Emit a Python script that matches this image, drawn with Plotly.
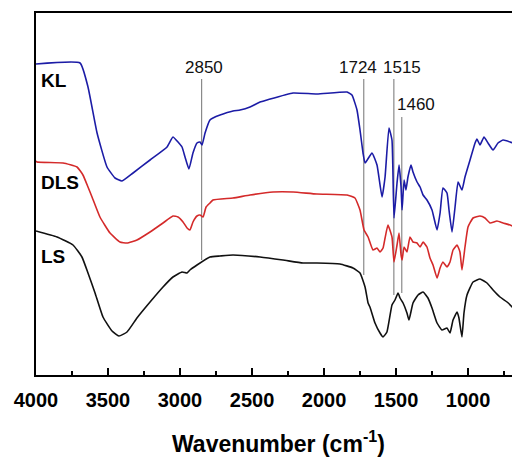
import plotly.graph_objects as go

# ---- data (wavenumber in cm-1, transmittance in arbitrary offset units) ----
kl_wn = [4000, 3694, 3639, 3576, 3507, 3451, 3403, 3326, 3208, 3090, 3049, 3014, 2986, 2965,
         2938, 2910, 2882, 2861, 2847, 2826, 2792, 2771, 2722, 2632, 2583, 2514, 2444, 2396,
         2215, 2049, 1840, 1806, 1771, 1750, 1729, 1715, 1667, 1632, 1597, 1576, 1549, 1528,
         1514, 1493, 1479, 1465, 1458, 1444, 1431, 1417, 1396, 1382, 1354, 1333, 1312, 1285,
         1250, 1215, 1194, 1174, 1146, 1132, 1111, 1090, 1069, 1042, 1021, 986, 951, 938, 917,
         889, 861, 826, 792, 757, 708, 660, 639]
kl_t = [311, 312, 288, 242, 208, 197, 194, 202, 215, 228, 238, 233, 228, 218,
        206, 222, 232, 233, 230, 242, 255, 257, 260, 264, 265, 268, 273, 275,
        282, 281, 283, 280, 265, 245, 222, 212, 222, 210, 178, 198, 247, 235,
        157, 192, 210, 188, 165, 195, 185, 198, 210, 203, 193, 188, 180, 175,
        165, 145, 162, 187, 182, 165, 143, 168, 193, 185, 198, 215, 232, 236, 230,
        238, 232, 225, 232, 235, 233, 230, 228]

dls_wn = [4000, 3993, 3812, 3715, 3674, 3639, 3611, 3556, 3486, 3417, 3368, 3299, 3208, 3118,
          3049, 3014, 2979, 2951, 2931, 2910, 2882, 2861, 2840, 2819, 2792, 2771, 2632, 2514,
          2354, 2215, 2049, 1840, 1785, 1750, 1722, 1694, 1660, 1632, 1611, 1590, 1576, 1556,
          1528, 1514, 1493, 1479, 1465, 1458, 1444, 1424, 1403, 1382, 1354, 1333, 1312, 1285,
          1264, 1243, 1215, 1194, 1174, 1146, 1125, 1104, 1076, 1056, 1042, 1021, 1000, 965,
          917, 882, 847, 799, 757, 708, 653, 639]
dls_t = [214, 213, 212, 208, 200, 188, 178, 158, 142, 133, 132, 135, 143, 152,
         159, 158, 153, 147, 145, 153, 159, 160, 158, 168, 172, 175, 177, 180,
         183, 183, 181, 180, 177, 165, 145, 138, 125, 127, 123, 127, 137, 150,
         138, 113, 130, 142, 120, 115, 128, 123, 138, 133, 132, 128, 133, 128,
         117, 110, 97, 107, 113, 108, 113, 125, 130, 123, 105, 128, 148, 157,
         159, 157, 152, 154, 152, 150, 146, 145]

ls_wn = [4000, 3854, 3743, 3681, 3639, 3590, 3535, 3472, 3424, 3368, 3299, 3208, 3118, 3049,
         2986, 2951, 2931, 2882, 2792, 2722, 2632, 2444, 2285, 2146, 2049, 1889, 1799, 1750,
         1715, 1694, 1681, 1646, 1611, 1590, 1563, 1528, 1507, 1486, 1472, 1451, 1424, 1410,
         1382, 1347, 1312, 1278, 1250, 1215, 1181, 1146, 1125, 1104, 1076, 1063, 1042, 1028,
         1007, 965, 917, 868, 826, 778, 729, 688, 646, 639]
ls_t = [144, 138, 130, 118, 102, 82, 58, 44, 39, 43, 57, 73, 88, 98,
        103, 102, 105, 110, 118, 119, 120, 118, 115, 112, 112, 111, 107, 102,
        88, 72, 68, 52, 42, 38, 43, 70, 75, 82, 77, 72, 62, 55,
        72, 80, 83, 77, 67, 52, 45, 47, 42, 55, 63, 57, 38, 62,
        80, 93, 96, 92, 85, 78, 73, 67, 58, 57]

series_names = ["KL", "DLS", "LS"]
series_colors = ["#1c1ca6", "#d42a2a", "#111111"]

# marker lines: wavenumber, top and bottom (transmittance units)
mark_wn = [2850, 1724, 1515, 1460]
mark_top = [296, 296, 296, 258]
mark_bot = [115, 100, 80, 82]
mark_labels = ["2850", "1724", "1515", "1460"]
mark_label_x = [2830, 1764, 1455, 1361]
mark_label_y = [308, 308, 308, 271]

name_label_x = [3979, 3979, 3979]
name_label_y = [295, 193, 119]

xticks = [4000, 3500, 3000, 2500, 2000, 1500, 1000]

FONT = "Liberation Sans, Arial, sans-serif"

fig = go.Figure()

# vertical marker lines
for wn, top, bot in zip(mark_wn, mark_top, mark_bot):
    fig.add_trace(go.Scatter(x=[wn, wn], y=[bot, top], mode="lines",
                             line=dict(color="#8a8a8a", width=1.2),
                             showlegend=False, hoverinfo="skip"))

for wn, t, name, col in zip([kl_wn, dls_wn, ls_wn], [kl_t, dls_t, ls_t], series_names, series_colors):
    fig.add_trace(go.Scatter(x=wn, y=t, mode="lines", name=name,
                             line=dict(color=col, width=1.6, shape="spline", smoothing=0.4),
                             showlegend=False))

for txt, x, y in zip(mark_labels, mark_label_x, mark_label_y):
    fig.add_annotation(x=x, y=y, text=txt, showarrow=False, xanchor="center", yanchor="middle",
                       font=dict(family=FONT, size=17, color="#111111"))

for txt, x, y in zip(series_names, name_label_x, name_label_y):
    fig.add_annotation(x=x, y=y, text=txt, showarrow=False, xanchor="left", yanchor="middle",
                       font=dict(family=FONT, size=19, color="#000000", weight="bold"))

fig.add_annotation(xref="paper", yref="paper", x=0.5, y=-0.185,
                   text="Wavenumber (cm<sup>-1</sup>)", showarrow=False,
                   xanchor="center", yanchor="middle",
                   font=dict(family=FONT, size=23, color="#000000", weight="bold"))

fig.update_xaxes(range=[4000, 639], tickvals=xticks, ticktext=[str(v) for v in xticks],
                 ticks="inside", ticklen=7, tickwidth=1.5, tickcolor="#000",
                 ticklabelstandoff=6,
                 minor=dict(dtick=250, tick0=0, ticks="inside", ticklen=4, tickwidth=1.5, tickcolor="#000"),
                 showline=True, linecolor="#000", linewidth=2, mirror=True,
                 showgrid=False, zeroline=False,
                 tickfont=dict(family=FONT, size=20, color="#000", weight="bold"))
fig.update_yaxes(range=[0, 362], showticklabels=False, ticks="",
                 showline=True, linecolor="#000", linewidth=2, mirror=False,
                 showgrid=False, zeroline=False)

# the page adds an 8px body margin; figure is sized/offset to compensate
fig.update_layout(width=512, height=449, margin=dict(l=28, r=0, t=5, b=82, autoexpand=False),
                  paper_bgcolor="white", plot_bgcolor="white",
                  font=dict(family=FONT))

fig.write_html("out.html")
